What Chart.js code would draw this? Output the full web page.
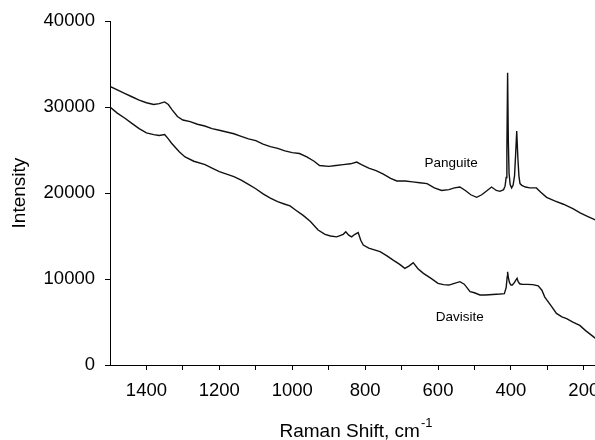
<!DOCTYPE html>
<html>
<head>
<meta charset="utf-8">
<script src="https://cdn.jsdelivr.net/npm/chart.js@4.4.1/dist/chart.umd.min.js"></script>
<style>
  html, body { margin: 0; padding: 0; background: #fff; overflow: hidden; }
  #wrap { position: relative; width: 602px; height: 440px; }
</style>
</head>
<body>
<div id="wrap"><canvas id="c"></canvas></div>
<script>
// ---- data ----
const panguiteShift = [1500,1480,1460,1440,1420,1400,1380,1365,1350,1340,1330,1315,1300,1280,1260,1240,1220,1200,1180,1160,1140,1120,1100,1080,1060,1040,1020,1000,980,960,940,925,900,880,860,840,823,810,790,770,750,730,713,690,670,650,630,610,590,570,555,540,525,510,494,480,465,453,440,430,420,416,413,411,409,407,405,402,398,394,390,387,384,381,378,375,370,360,348,330,318,302,280,256,230,210,190,170,155];
const panguiteIntensity = [32400,32000,31600,31200,30800,30500,30300,30400,30600,30300,29700,28900,28500,28300,28000,27800,27500,27300,27100,26900,26600,26300,26100,25700,25400,25200,24900,24700,24600,24200,23700,23200,23100,23200,23300,23400,23600,23300,22900,22600,22200,21700,21400,21400,21300,21200,21100,20600,20300,20400,20600,20700,20300,19800,19500,19800,20300,20700,20300,20200,20400,20800,21800,25000,34000,26000,22300,21000,20600,20900,22000,24500,27200,24200,22000,21100,20900,20700,20600,20600,20100,19500,19100,18700,18200,17700,17300,16900,16600];

const davisiteShift = [1500,1480,1459,1440,1420,1400,1380,1365,1350,1340,1331,1310,1294,1270,1239,1220,1200,1180,1160,1140,1120,1100,1080,1060,1040,1020,1006,990,970,950,929,910,895,878,860,853,845,837,828,819,812,805,790,759,740,723,705,691,680,668,655,640,620,600,585,570,555,540,528,512,500,485,470,450,430,418,413,410,409,407,404,400,396,390,386,383,380,376,370,355,340,325,315,307,290,275,260,247,230,211,195,180,168,155];
const davisiteIntensity = [30000,29300,28700,28100,27500,27000,26800,26700,26800,26300,25800,24800,24200,23700,23300,22900,22500,22200,21900,21500,21000,20500,19900,19400,19000,18700,18500,18000,17400,16700,15700,15200,15000,14900,15200,15500,15100,14900,15200,15400,14500,13950,13600,13180,12700,12200,11700,11240,11500,11900,11200,10660,10100,9500,9350,9300,9500,9690,9400,8530,8400,8140,8150,8200,8250,8300,9000,10300,10850,10200,9600,9300,9300,9600,9900,10080,9700,9450,9400,9380,9350,9200,8700,7900,6900,6000,5600,5400,5000,4600,4000,3500,3100,2800];

const xTickValues = [200,300,400,500,600,700,800,900,1000,1100,1200,1300,1400];
const yTickValues = [0,10000,20000,30000,40000];
const seriesLabels = ['Panguite','Davisite'];
const labelPositions = [[564, 23490],[540, 5580]];
const xTitle = 'Raman Shift, cm';
const xTitleSup = '-1';
const yTitle = 'Intensity';

const FONT = "'Liberation Sans', Arial, Helvetica, sans-serif";

function toPoints(xs, ys) { return xs.map((x, i) => ({ x: x, y: ys[i] })); }

const annotate = {
  id: 'annotate',
  afterDraw(chart) {
    const ctx = chart.ctx;
    const xs = chart.scales.x, ys = chart.scales.y;
    ctx.save();
    ctx.fillStyle = '#000';
    ctx.textAlign = 'center';
    ctx.textBaseline = 'middle';
    ctx.font = '13.5px ' + FONT;
    seriesLabels.forEach((t, i) => {
      ctx.fillText(t, xs.getPixelForValue(labelPositions[i][0]), ys.getPixelForValue(labelPositions[i][1]));
    });
    // x axis title with superscript
    const area = chart.chartArea;
    const cx = (area.left + area.right) / 2;
    ctx.font = '19px ' + FONT;
    const w1 = ctx.measureText(xTitle).width;
    ctx.font = '13px ' + FONT;
    const w2 = ctx.measureText(xTitleSup).width;
    const start = cx - (w1 + 1 + w2) / 2;
    ctx.textAlign = 'left';
    ctx.textBaseline = 'alphabetic';
    ctx.font = '19px ' + FONT;
    ctx.fillText(xTitle, start, 436.5);
    ctx.font = '13px ' + FONT;
    ctx.fillText(xTitleSup, start + w1 + 1, 426.5);
    ctx.restore();
  }
};

new Chart(document.getElementById('c'), {
  type: 'line',
  data: {
    datasets: [
      { label: seriesLabels[0], data: toPoints(panguiteShift, panguiteIntensity), borderColor: '#111', borderWidth: 1.4, pointRadius: 0, tension: 0, fill: false },
      { label: seriesLabels[1], data: toPoints(davisiteShift, davisiteIntensity), borderColor: '#111', borderWidth: 1.4, pointRadius: 0, tension: 0, fill: false }
    ]
  },
  options: {
    responsive: true,
    maintainAspectRatio: false,
    animation: false,
    layout: { padding: { left: 0, right: 0, top: 21, bottom: 0 } },
    plugins: { legend: { display: false }, tooltip: { enabled: false } },
    scales: {
      x: {
        type: 'linear', reverse: true, min: 150, max: 1500,
        afterBuildTicks: s => { s.ticks = xTickValues.map(v => ({ value: v })); },
        afterFit: s => { s.height = 75; },
        ticks: {
          autoSkip: false, maxRotation: 0, color: '#000', padding: 10,
          font: { family: FONT, size: 18.5 },
          callback: v => (v % 200 === 0 ? String(v) : '')
        },
        grid: { drawOnChartArea: false, drawTicks: true, tickLength: 5, color: '#000', lineWidth: 1 },
        border: { display: true, color: '#000', width: 1 },
        title: { display: false }
      },
      y: {
        min: 0, max: 40000,
        afterBuildTicks: s => { s.ticks = yTickValues.map(v => ({ value: v })); },
        afterFit: s => { s.width = 110; },
        ticks: { color: '#000', padding: 10, font: { family: FONT, size: 18.5 }, callback: v => String(v) },
        grid: { drawOnChartArea: false, drawTicks: true, tickLength: 5, color: '#000', lineWidth: 1 },
        border: { display: true, color: '#000', width: 1 },
        title: { display: true, text: yTitle, color: '#000', font: { family: FONT, size: 19 }, padding: { top: 8, bottom: 0 } }
      }
    }
  },
  plugins: [annotate]
});
</script>
</body>
</html>
